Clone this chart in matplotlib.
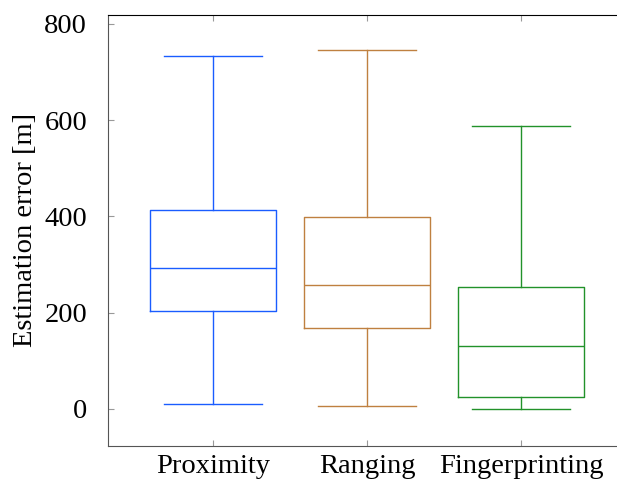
import matplotlib
matplotlib.use("Agg")
import matplotlib.pyplot as plt

# box statistics (metres)
methods = ["Proximity", "Ranging", "Fingerprinting"]
whislo = [11, 7, 0]
q1 = [204, 168, 25]
med = [293, 258, 131]
q3 = [413, 399, 254]
whishi = [733, 745, 588]
colors = ["#1a5cff", "#bf8040", "#22922a"]

plt.rcParams["font.family"] = ["Liberation Serif", "DejaVu Serif"]
plt.rcParams["font.size"] = 20.5

fig = plt.figure(figsize=(6.17, 4.79), dpi=100)
ax = fig.add_axes([0.175, 0.069, 0.84, 0.9])

stats = []
for i, name in enumerate(methods):
    stats.append({"label": name, "whislo": whislo[i], "q1": q1[i], "med": med[i],
                  "q3": q3[i], "whishi": whishi[i], "fliers": []})

bp = ax.bxp(stats, positions=[1, 2, 3], widths=0.82, showfliers=False,
            patch_artist=False, manage_ticks=False)

for i, c in enumerate(colors):
    bp["boxes"][i].set(color=c, linewidth=1.0)
    bp["medians"][i].set(color=c, linewidth=1.0)
    for w in bp["whiskers"][2 * i:2 * i + 2]:
        w.set(color=c, linewidth=1.0)
    for cap in bp["caps"][2 * i:2 * i + 2]:
        cap.set(color=c, linewidth=1.0, xdata=[i + 1 - 0.32, i + 1 + 0.32])

ax.set_xlim(0.318, 3.682)
ax.set_ylim(-77, 819)
ax.set_xticks([1, 2, 3])
ax.set_xticklabels(methods)
ax.set_yticks([0, 200, 400, 600, 800])
ax.set_ylabel("Estimation error [m]")
ax.yaxis.set_label_coords(-0.135, 0.5)

ax.tick_params(direction="in", length=4, color="#999999", top=True, right=True)
ax.tick_params(axis="y", pad=15)
ax.tick_params(axis="x", pad=6)
for s in ["left", "bottom"]:
    ax.spines[s].set_color("#555555")
ax.spines["top"].set_color("black")

fig.savefig("out.png", dpi=100)
